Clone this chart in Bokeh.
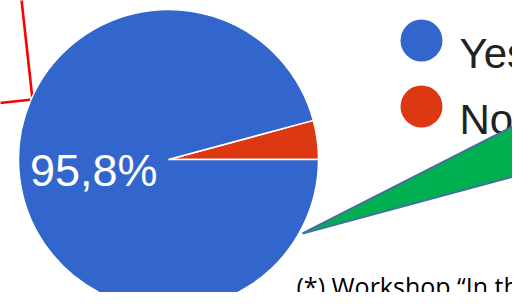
import math
from bokeh.plotting import figure
from bokeh.models import Range1d
from bokeh.core.properties import value
from bokeh.embed import file_html
from bokeh.resources import INLINE

# ---- data ----
categories = ["Yes", "No"]
shares = [95.8, 4.2]
colors = ["#3366CC", "#DC3912"]
note_text = "(*) Workshop \u201cIn the classroom\u201d"

# ---- figure (1 data unit = 1 px; x = picture px, y = 300 - picture px) ----
p = figure(width=512, height=292, x_range=Range1d(0, 512), y_range=Range1d(8, 300),
           output_backend="svg", toolbar_location=None, min_border=0,
           x_axis_type=None, y_axis_type=None)
p.grid.visible = False
p.outline_line_color = None
p.background_fill_color = "white"
p.border_fill_color = "white"

# red frame fragment (decoration)
p.line(x=[20, 32, -5], y=[310, 201, 197], line_color="#FF0000", line_width=2.6)

# pie
cx, cy, r = 168, 141, 150
total = sum(shares)
order = [1, 0]  # "No" slice starts at 3 o'clock, counter-clockwise
cum = 0.0
starts, ends, cols = [], [], []
for i in order:
    starts.append(cum)
    cum += shares[i] / total * 2 * math.pi
    ends.append(cum)
    cols.append(colors[i])
p.wedge(x=[cx] * len(order), y=[cy] * len(order), radius=r,
        start_angle=starts, end_angle=ends, fill_color=cols,
        line_color="white", line_width=1.5)

# slice label
label = f"{shares[0]:.1f}".replace(".", ",") + "%"
p.text(x=[157], y=[130], text=[label], text_align="right", text_baseline="alphabetic",
       text_font=value("Liberation Sans"), text_font_size="45px", text_color="white")

# legend
p.circle(x=[421, 421], y=[260, 194], radius=21, fill_color=colors, line_color=None)
p.text(x=[459, 459], y=[247, 181], text=categories, text_baseline="alphabetic",
       text_font=value("Liberation Sans"), text_font_size="42px", text_color="#222222")

# green callout (decoration)
p.patch(x=[302, 560, 560], y=[67, 198.3, 136.7], fill_color="#00B050",
        line_color="#41719C", line_width=2)

# footnote
p.text(x=[296], y=[15], text=[note_text], text_baseline="alphabetic",
       text_font=value("Open Sans"), text_font_size="25px", text_color="black")

open("out.html", "w").write(file_html(p, INLINE))
